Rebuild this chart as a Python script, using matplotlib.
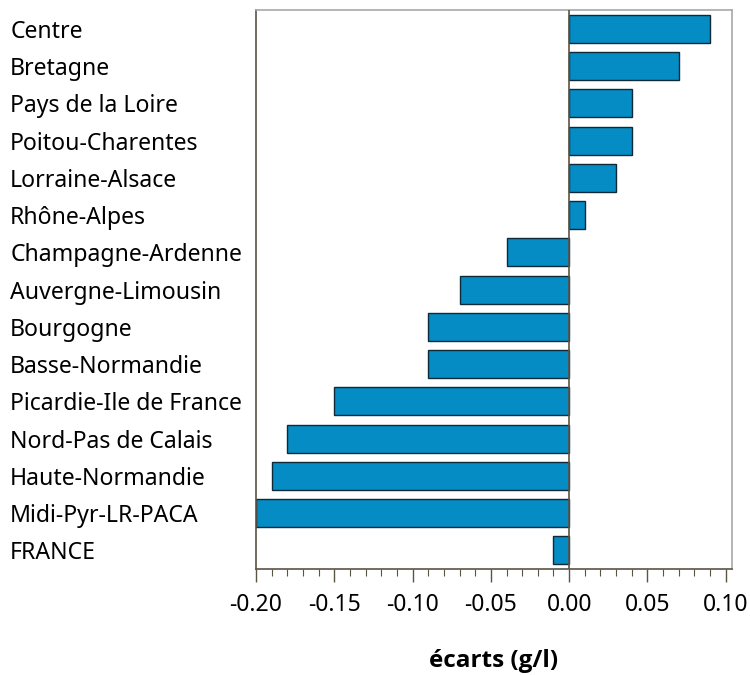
import matplotlib
matplotlib.use("Agg")
import matplotlib.pyplot as plt
from matplotlib.ticker import MultipleLocator, FormatStrFormatter

plt.rcParams['font.family'] = ['Noto Sans', 'DejaVu Sans']

regions = ['Centre', 'Bretagne', 'Pays de la Loire', 'Poitou-Charentes',
           'Lorraine-Alsace', 'Rhône-Alpes', 'Champagne-Ardenne',
           'Auvergne-Limousin', 'Bourgogne', 'Basse-Normandie',
           'Picardie-Ile de France', 'Nord-Pas de Calais', 'Haute-Normandie',
           'Midi-Pyr-LR-PACA', 'FRANCE']
ecarts = [0.09, 0.07, 0.04, 0.04, 0.03, 0.01, -0.04, -0.07, -0.09, -0.09,
          -0.15, -0.18, -0.19, -0.20, -0.01]

fig = plt.figure(figsize=(7.5, 6.75), dpi=100)
ax = fig.add_axes([0.3413, 0.157, 0.6347, 0.828])

ypos = list(range(len(regions)))
ax.barh(ypos, ecarts, height=0.75, color='#058cc4', edgecolor='#0e2a38',
        linewidth=1.0, zorder=2)
ax.axvline(0, color='#5a5346', linewidth=1.2, zorder=3)

ax.set_ylim(len(regions) - 0.5, -0.5)
ax.set_xlim(-0.2, 0.104)

ax.set_yticks(ypos)
ax.set_yticklabels(regions, ha='left', fontsize=16.6)
ax.tick_params(axis='y', length=0, pad=177)

ax.xaxis.set_major_locator(MultipleLocator(0.05))
ax.xaxis.set_minor_locator(MultipleLocator(0.01))
ax.xaxis.set_major_formatter(FormatStrFormatter('%.2f'))
ax.tick_params(axis='x', which='major', length=9, width=1, color='#5a5346',
               labelsize=16.5, pad=8)
ax.tick_params(axis='x', which='minor', length=5, width=0.8, color='#5a5346')

for side in ['left', 'bottom']:
    ax.spines[side].set_color('#5a5346')
    ax.spines[side].set_linewidth(1.2)
for side in ['top', 'right']:
    ax.spines[side].set_color('#a8a8a8')
    ax.spines[side].set_linewidth(1.2)

ax.set_xlabel('écarts (g/l)', fontsize=17.5, fontweight='bold', labelpad=23,
              family=['Open Sans', 'DejaVu Sans'])

fig.savefig('out.png', dpi=100)
